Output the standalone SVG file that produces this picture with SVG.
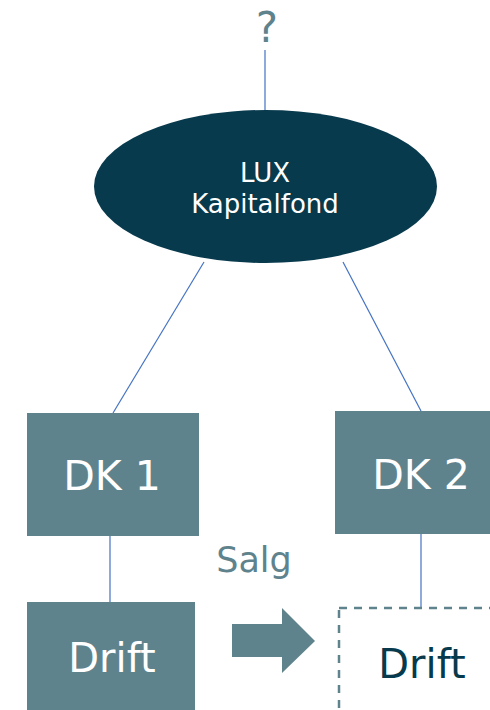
<svg xmlns="http://www.w3.org/2000/svg" width="490" height="710" viewBox="0 0 490 710">
  <style>
    text { font-family: "DejaVu Sans", Verdana, sans-serif; text-anchor: middle; }
    .link { stroke: #4472c4; stroke-width: 1.2; fill: none; }
    .box { fill: #5f838d; }
    .boxlabel { fill: #ffffff; font-size: 41px; }
    .muted { fill: #5f838d; }
  </style>

  <rect width="490" height="710" fill="#ffffff"/>

  <!-- connectors -->
  <g id="connectors">
    <line class="link" x1="265" y1="50" x2="265" y2="111"/>
    <line class="link" x1="204" y1="262" x2="113" y2="413"/>
    <line class="link" x1="343" y1="262" x2="421" y2="411"/>
    <line class="link" x1="110" y1="536" x2="110" y2="602"/>
    <line class="link" x1="421" y1="534" x2="421" y2="608"/>
  </g>

  <g id="owner-unknown">
    <text class="muted" x="267" y="42" font-size="42">?</text>
  </g>

  <g id="lux-fund">
    <ellipse cx="265.5" cy="186.5" rx="171.5" ry="76.5" fill="#083a4d"/>
    <text x="265" y="182" font-size="26" fill="#ffffff">LUX</text>
    <text x="265" y="213" font-size="26" fill="#ffffff">Kapitalfond</text>
  </g>

  <g id="dk1">
    <rect class="box" x="27" y="413" width="172" height="123"/>
    <text class="boxlabel" x="112" y="490">DK 1</text>
  </g>

  <g id="dk2">
    <rect class="box" x="335" y="411" width="172" height="123"/>
    <text class="boxlabel" x="421" y="489">DK 2</text>
  </g>

  <g id="drift-current">
    <rect class="box" x="27" y="602" width="168" height="120"/>
    <text x="112" y="672" font-size="40" fill="#ffffff">Drift</text>
  </g>

  <g id="sale">
    <text class="muted" x="254" y="572" font-size="35">Salg</text>
    <polygon class="box" points="232,624 282,624 282,608 315,641 282,673 282,657 232,657"/>
  </g>

  <g id="drift-new">
    <rect x="339" y="608" width="170" height="120" fill="#ffffff" stroke="#5f838d" stroke-width="2.5" stroke-dasharray="8,7"/>
    <text x="422" y="678" font-size="40" fill="#083a4d">Drift</text>
  </g>
</svg>
